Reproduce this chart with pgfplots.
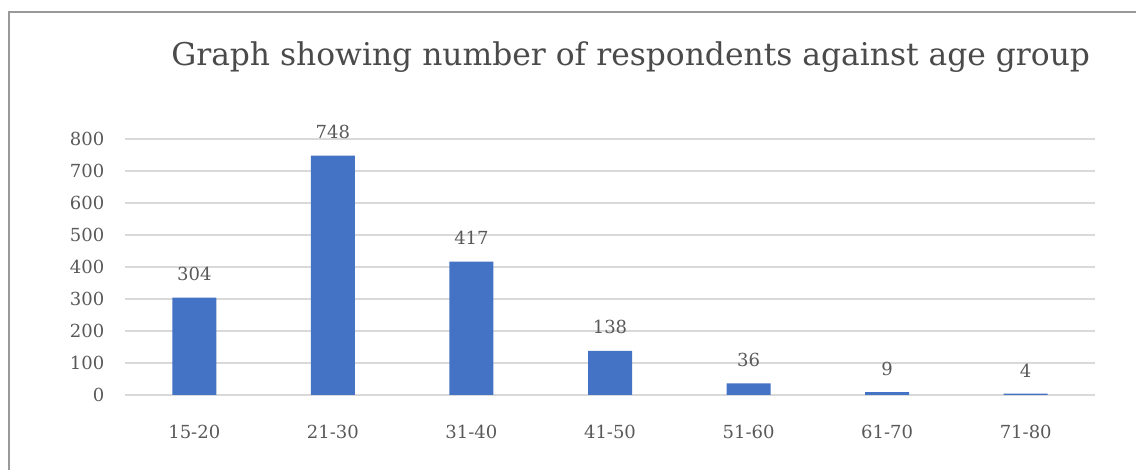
\documentclass[border=0pt]{standalone}
\usepackage{pgfplots}
\pgfplotsset{compat=1.18}
\usepackage{fontspec}
\setmainfont{DejaVu Serif}
\definecolor{barblue}{HTML}{4472C4}
\definecolor{gridgray}{HTML}{D9D9D9}
\definecolor{txtgray}{HTML}{595959}
\definecolor{titlegray}{HTML}{4A4A4A}
\definecolor{framegray}{HTML}{999999}
\begin{document}
\begin{tikzpicture}
\useasboundingbox (0,0) rectangle (852pt,352.5pt);
\draw[framegray, line width=1.5pt] (6.5pt,0) -- (6.5pt,343.5pt) -- (852pt,343.5pt);
\node[text=titlegray, font=\fontsize{23.5}{28}\selectfont] at (473pt,310pt) {Graph showing number of respondents against age group};
\begin{axis}[
  at={(93.75pt,56.25pt)}, anchor=south west,
  scale only axis, width=727.5pt, height=192pt,
  ybar, bar width=33pt,
  xmin=-0.5, xmax=6.5, ymin=0, ymax=800,
  xtick={0,1,2,3,4,5,6},
  xticklabels={15-20,21-30,31-40,41-50,51-60,61-70,71-80},
  ytick={0,100,...,800},
  ymajorgrids, grid style={gridgray, line width=1pt},
  axis line style={draw=none},
  major tick length=0pt,
  /pgf/number format/assume math mode=true,
  tick label style={text=txtgray, font=\fontsize{13.5}{16}\selectfont},
  yticklabel style={xshift=-12pt},
  xticklabel style={yshift=-19pt},
  nodes near coords,
  every node near coord/.append style={text=txtgray, font=\fontsize{13.5}{16}\selectfont, yshift=9pt},
]
\addplot[fill=barblue, draw=none] coordinates {(0,304) (1,748) (2,417) (3,138) (4,36) (5,9) (6,4)};
\end{axis}
\end{tikzpicture}
\end{document}
